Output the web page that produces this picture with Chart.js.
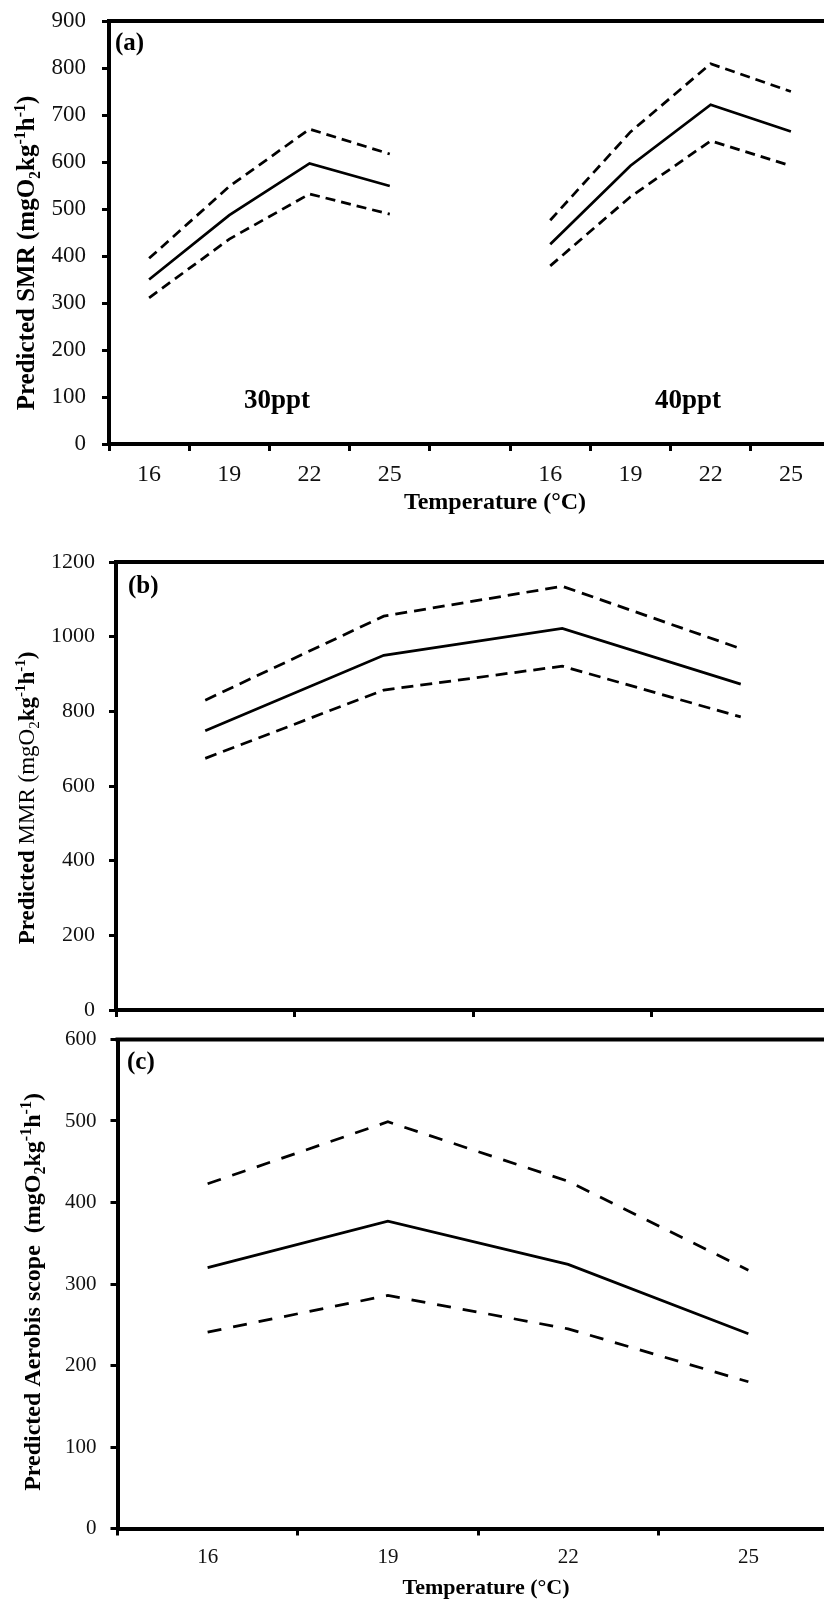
<!DOCTYPE html>
<html><head><meta charset="utf-8">
<script src="https://cdn.jsdelivr.net/npm/chart.js@4.4.1/dist/chart.umd.min.js"></script>
<style>
html,body{margin:0;padding:0;background:#fff;overflow:hidden;width:824px;height:1602px;position:relative;}
canvas{position:absolute;left:0;display:block;}
</style></head><body>
<canvas id="cA" width="880" height="530" style="top:0px"></canvas>
<canvas id="cB" width="880" height="500" style="top:530px"></canvas>
<canvas id="cC" width="880" height="582" style="top:1020px"></canvas>
<script>
// ---------- data ----------
const xLabelsA = ['16','19','22','25','','16','19','22','25'];
const xLabelsBC = ['16','19','22','25'];

const smr30Mean  = [350, 487, 597, 549];
const smr30Upper = [395, 548, 670, 617];
const smr30Lower = [311, 436, 532, 489];
const smr40Mean  = [425, 592, 722, 665];
const smr40Upper = [476, 664, 809, 750];
const smr40Lower = [379, 526, 645, 592];

const mmrMean  = [748, 950, 1022, 873];
const mmrUpper = [830, 1055, 1135, 968];
const mmrLower = [674, 857, 921, 785];

const asMean  = [320, 377, 324, 239];
const asUpper = [423, 499, 426, 317];
const asLower = [241, 286, 245, 180];

const yTicksA = {min:0, max:900, step:100};
const yTicksB = {min:0, max:1200, step:200};
const yTicksC = {min:0, max:600, step:100};

// ---------- helpers ----------
const SERIF = '"Liberation Serif", "Times New Roman", serif';
const join = (a, b) => [...a, null, ...b];

function drawRich(ctx, it, offY) {
  ctx.save();
  ctx.translate(it.x, it.y - offY);
  if (it.rot) ctx.rotate(it.rot);
  ctx.fillStyle = '#000';
  ctx.textBaseline = 'alphabetic';
  ctx.textAlign = 'left';
  const fonts = it.segs.map(s => (s.bold ? 'bold ' : '') + s.size + 'px ' + SERIF);
  let total = 0;
  const widths = it.segs.map((s, i) => { ctx.font = fonts[i]; const w = ctx.measureText(s.t).width; total += w; return w; });
  let x = it.align === 'center' ? -total / 2 : 0;
  it.segs.forEach((s, i) => {
    ctx.font = fonts[i];
    ctx.fillText(s.t, x, typeof s.shift === 'number' ? s.shift : 0);
    x += widths[i];
  });
  ctx.restore();
}

const ANNOT = {};  // canvas id -> {offY, items}

const annotPlugin = {
  id: 'annot',
  afterDraw(chart) {
    const ctx = chart.ctx, a = chart.chartArea;
    ctx.save();
    ctx.strokeStyle = '#000';
    ctx.lineWidth = 4;
    ctx.beginPath();
    ctx.moveTo(a.left - 2, a.top);
    ctx.lineTo(a.right + 2, a.top);
    ctx.lineTo(a.right + 2, a.bottom);
    ctx.stroke();
    ctx.restore();
    const cfg = ANNOT[chart.canvas.id];
    if (cfg) cfg.items.forEach(it => drawRich(ctx, it, cfg.offY));
  }
};

function unitSegs(size, boldMain, boldUnit) {
  const sub = Math.round(size * 0.65);
  return [
    {t:'(mgO', size:size, bold:boldMain, shift:0},
    {t:'2', size:sub, bold:boldMain, shift: size * 0.22},
    {t:'kg', size:size, bold:boldUnit, shift:0},
    {t:'-1', size:sub, bold:boldUnit, shift: -size * 0.38},
    {t:'h', size:size, bold:boldUnit, shift:0},
    {t:'-1', size:sub, bold:boldUnit, shift: -size * 0.38},
    {t:')', size:size, bold:boldUnit, shift:0}
  ];
}

function lineDs(data, dash, w) {
  return {
    data, borderColor:'#000', backgroundColor:'#000', borderWidth: w,
    borderDash: dash || [], pointRadius:0, pointHoverRadius:0, tension:0,
    borderJoinStyle:'miter', borderCapStyle:'butt', fill:false, spanGaps:false
  };
}

function makeOptions(cfg) {
  return {
    responsive:false, animation:false, events:[],
    layout:{padding: cfg.pad},
    plugins:{legend:{display:false}, tooltip:{enabled:false}},
    scales:{
      x:{
        type:'category', offset:true,
        grid:{display:true, offset:true, drawOnChartArea:false, drawTicks:true,
              tickLength:7, tickWidth:3, tickColor:'#000'},
        border:{display:true, width:4, color:'#000'},
        ticks:{display: cfg.xTicks, color:'#111', font:{family:SERIF, size:cfg.xFont},
               padding: cfg.xPad, maxRotation:0, autoSkip:false},
        afterFit: s => { s.height = cfg.xH; s.paddingLeft = 0; s.paddingRight = 0; }
      },
      y:{
        min: cfg.y.min, max: cfg.y.max,
        grid:{display:true, drawOnChartArea:false, drawTicks:true,
              tickLength:7, tickWidth:3, tickColor:'#000'},
        border:{display:true, width:4, color:'#000'},
        ticks:{stepSize: cfg.y.step, color:'#111', font:{family:SERIF, size:cfg.yFont}, padding: cfg.yPad,
               callback: v => String(v)},
        afterFit: s => { s.width = cfg.yW; s.paddingTop = 0; s.paddingBottom = 0; }
      }
    }
  };
}

Chart.register(annotPlugin);

// ---------- panel (a) ----------
ANNOT.cA = {offY:0, items:[
  {x:115, y:50, segs:[{t:'(a)', size:25, bold:true, shift:0}]},
  {x:277, y:408, align:'center', segs:[{t:'30ppt', size:27, bold:true, shift:0}]},
  {x:688, y:408, align:'center', segs:[{t:'40ppt', size:27, bold:true, shift:0}]},
  {x:495, y:509, align:'center', segs:[{t:'Temperature (°C)', size:24, bold:true, shift:0}]},
  {x:34, y:253, rot:-Math.PI/2, align:'center',
   segs:[{t:'Predicted SMR ', size:25, bold:true, shift:0}, ...unitSegs(25, true, true)]}
]};
new Chart(document.getElementById('cA'), {
  type:'line',
  data:{labels:xLabelsA, datasets:[
    lineDs(join(smr30Upper, smr40Upper), [10,6], 2.75),
    lineDs(join(smr30Mean, smr40Mean), [], 2.75),
    lineDs(join(smr30Lower, smr40Lower), [10,6], 2.75)
  ]},
  options: makeOptions({
    pad:{left:0, right:49, top:21, bottom:46}, yW:109, xH:40,
    xTicks:true, xFont:24, xPad:9, yFont:23, yPad:16, y:yTicksA
  })
});

// ---------- panel (b) ----------
ANNOT.cB = {offY:530, items:[
  {x:128, y:593, segs:[{t:'(b)', size:25, bold:true, shift:0}]},
  {x:34, y:798, rot:-Math.PI/2, align:'center',
   segs:[{t:'Predicted ', size:23, bold:true, shift:0}, {t:'MMR ', size:23, bold:false, shift:0}, ...unitSegs(23, false, true)]}
]};
new Chart(document.getElementById('cB'), {
  type:'line',
  data:{labels:xLabelsBC, datasets:[
    lineDs(mmrUpper, [12,7], 2.75),
    lineDs(mmrMean, [], 2.75),
    lineDs(mmrLower, [12,7], 2.75)
  ]},
  options: makeOptions({
    pad:{left:0, right:50, top:32, bottom:10}, yW:116, xH:10,
    xTicks:false, xFont:21, xPad:0, yFont:22, yPad:14, y:yTicksB
  })
});

// ---------- panel (c) ----------
ANNOT.cC = {offY:1020, items:[
  {x:127, y:1069, segs:[{t:'(c)', size:25, bold:true, shift:0}]},
  {x:486, y:1594, align:'center', segs:[{t:'Temperature (°C)', size:22, bold:true, shift:0}]},
  {x:40, y:1292, rot:-Math.PI/2, align:'center',
   segs:[{t:'Predicted Aerobis scope  ', size:24, bold:true, shift:0}, ...unitSegs(24, true, true)]}
]};
new Chart(document.getElementById('cC'), {
  type:'line',
  data:{labels:xLabelsBC, datasets:[
    lineDs(asUpper, [14,12], 2.75),
    lineDs(asMean, [], 2.75),
    lineDs(asLower, [14,12], 2.75)
  ]},
  options: makeOptions({
    pad:{left:0, right:41.5, top:19.5, bottom:28.5}, yW:117.5, xH:45,
    xTicks:true, xFont:21, xPad:9, yFont:21, yPad:14, y:yTicksC
  })
});
</script>
</body></html>
